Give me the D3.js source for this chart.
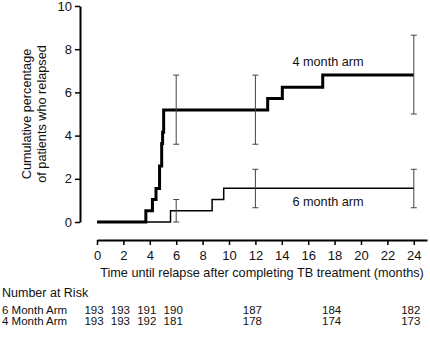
<!DOCTYPE html>
<html>
<head>
<meta charset="utf-8">
<script src="https://cdn.jsdelivr.net/npm/d3@7"></script>
<style>
  body { margin: 0; background: #fff; }
  text { font-family: "Liberation Sans", Arial, sans-serif; fill: #111; }
</style>
</head>
<body>
<div id="chart"></div>
<script>
// Kaplan-Meier style cumulative relapse (%)
var arm4Times = [0, 3.7, 4.2, 4.47, 4.74, 4.9, 4.97, 5.05, 12.93, 14.04, 17.1, 24];
var arm4Pct   = [0, 0.52, 1.04, 1.55, 2.59, 3.63, 4.15, 5.19, 5.72, 6.24, 6.8, 6.8];
var arm6Times = [0, 5.57, 8.72, 9.6, 24];
var arm6Pct   = [0, 0.52, 1.04, 1.56, 1.56];

// 95% CI bars
var errTimes = [6, 12, 24];
var arm4Lo = [3.6, 3.6, 5.0];
var arm4Hi = [6.8, 6.8, 8.65];
var arm6Lo = [0, 0.66, 0.66];
var arm6Hi = [1.04, 2.44, 2.44];

// number at risk table
var riskMonths = [0, 2, 4, 6, 12, 18, 24];
var risk6 = [193, 193, 191, 190, 187, 184, 182];
var risk4 = [193, 193, 192, 181, 178, 174, 173];

var xTicks = [0, 2, 4, 6, 8, 10, 12, 14, 16, 18, 20, 22, 24];
var yTicks = [0, 2, 4, 6, 8, 10];

var width = 430, height = 344;

var svg = d3.select("#chart")
    .append("svg")
    .attr("width", width)
    .attr("height", height);

var x = d3.scaleLinear().domain([0, 25]).range([97, 427]);
var y = d3.scaleLinear().domain([0, 10]).range([222, 6]);

// Y axis
var yAxis = svg.append("g")
    .attr("transform", "translate(80,0)")
    .call(d3.axisLeft(y).tickValues(yTicks).tickSize(5).tickSizeOuter(0).tickPadding(3));
yAxis.select(".domain").attr("stroke", "#000").attr("stroke-width", 2);
yAxis.selectAll(".tick line").attr("stroke", "#000").attr("stroke-width", 1.5);
yAxis.selectAll(".tick text").style("font-size", "13px").attr("fill", "#111");

// X axis, drawn lower as a separate line
var xAxis = svg.append("g")
    .attr("transform", "translate(0,240)")
    .call(d3.axisBottom(x).tickValues(xTicks).tickSize(5).tickSizeOuter(0).tickPadding(6));
xAxis.select(".domain").attr("stroke", "#000").attr("stroke-width", 2);
xAxis.selectAll(".tick line").attr("stroke", "#000").attr("stroke-width", 1.5);
xAxis.selectAll(".tick text").style("font-size", "13px").attr("fill", "#111");

// axis titles
svg.append("text")
    .attr("transform", "translate(31,114) rotate(-90)")
    .attr("text-anchor", "middle")
    .style("font-size", "12.7px")
    .text("Cumulative percentage");
svg.append("text")
    .attr("transform", "translate(46,114) rotate(-90)")
    .attr("text-anchor", "middle")
    .style("font-size", "12.7px")
    .text("of patients who relapsed");

svg.append("text")
    .attr("x", 262)
    .attr("y", 277)
    .attr("text-anchor", "middle")
    .style("font-size", "12.7px")
    .text("Time until relapse after completing TB treatment (months)");

// step curves
var step = d3.line()
    .x(function (d) { return x(d[0]) })
    .y(function (d) { return y(d[1]) })
    .curve(d3.curveStepAfter);

svg.append("path")
    .datum(d3.zip(arm6Times, arm6Pct))
    .attr("d", step)
    .attr("fill", "none")
    .attr("stroke", "#000")
    .attr("stroke-width", 1.5);

svg.append("path")
    .datum(d3.zip(arm4Times, arm4Pct))
    .attr("d", step)
    .attr("fill", "none")
    .attr("stroke", "#000")
    .attr("stroke-width", 3);

// error bars
function errorBars(lo, hi) {
    var g = svg.append("g").attr("stroke", "#444").attr("stroke-width", 1);
    errTimes.forEach(function (t, i) {
        g.append("line")
            .attr("x1", x(t)).attr("x2", x(t))
            .attr("y1", y(lo[i])).attr("y2", y(hi[i]));
        [lo[i], hi[i]].forEach(function (v) {
            g.append("line")
                .attr("x1", x(t) - 3).attr("x2", x(t) + 3)
                .attr("y1", y(v)).attr("y2", y(v));
        });
    });
}
errorBars(arm4Lo, arm4Hi);
errorBars(arm6Lo, arm6Hi);

// series labels
svg.append("text")
    .attr("x", x(17.5)).attr("y", y(7.45) + 4.5)
    .attr("text-anchor", "middle")
    .style("font-size", "12.7px")
    .text("4 month arm");
svg.append("text")
    .attr("x", x(17.5)).attr("y", y(0.94) + 4.5)
    .attr("text-anchor", "middle")
    .style("font-size", "12.7px")
    .text("6 month arm");

// number at risk
svg.append("text")
    .attr("x", 2).attr("y", 297)
    .style("font-size", "12.5px")
    .text("Number at Risk");

var rows = [["6 Month Arm", risk6, 314], ["4 Month Arm", risk4, 325]];
rows.forEach(function (r) {
    svg.append("text")
        .attr("x", 2).attr("y", r[2])
        .style("font-size", "11.5px")
        .text(r[0]);
    svg.selectAll(null)
        .data(r[1])
        .enter()
        .append("text")
        .attr("x", function (d, i) { return x(riskMonths[i]) - 3 })
        .attr("y", r[2])
        .attr("text-anchor", "middle")
        .style("font-size", "11.5px")
        .text(function (d) { return d });
});
</script>
</body>
</html>
